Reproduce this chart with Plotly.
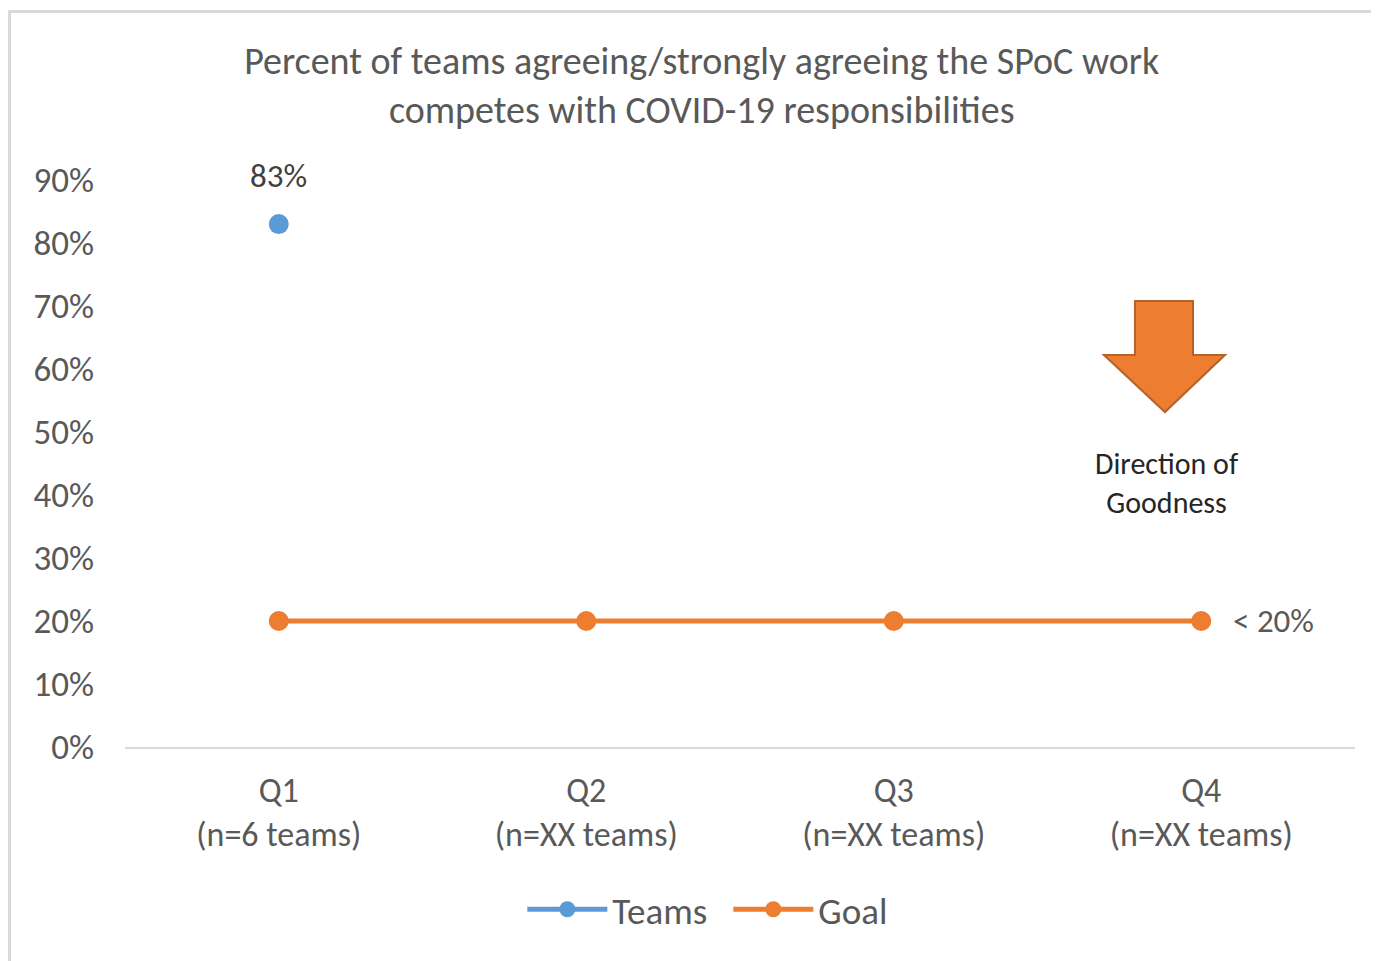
import plotly.graph_objects as go

BLUE = "#5B9BD5"
ORANGE = "#ED7D31"
GREY = "#595959"
FONT = "Calibri, Carlito, Lato, sans-serif"

quarters = ["Q1<br>(n=6 teams)", "Q2<br>(n=XX teams)", "Q3<br>(n=XX teams)", "Q4<br>(n=XX teams)"]
teams = [0.83, None, None, None]
goal = [0.20, 0.20, 0.20, 0.20]
teams_labels = ["83%", "", "", ""]
goal_labels = ["", "", "", "< 20%"]

fig = go.Figure()

fig.add_trace(go.Scatter(
    x=quarters, y=teams, name="Teams", mode="lines+markers",
    line=dict(color=BLUE, width=5), marker=dict(size=20, color=BLUE),
))
fig.add_trace(go.Scatter(
    x=quarters, y=goal, name="Goal", mode="lines+markers",
    line=dict(color=ORANGE, width=5), marker=dict(size=20, color=ORANGE),
))

# data labels
for q, v, lab in zip(quarters, teams, teams_labels):
    if lab:
        fig.add_annotation(x=q, y=v, text=lab, showarrow=False, yshift=48,
                           font=dict(size=33, color="#404040", family=FONT))
for q, v, lab in zip(quarters, goal, goal_labels):
    if lab:
        fig.add_annotation(x=q, y=v, text=lab, showarrow=False, xanchor="left",
                           xshift=30, font=dict(size=33, color=GREY, family=FONT))

# block arrow "direction of goodness" (paper coords)
fig.add_shape(type="path", xref="paper", yref="paper",
              path="M 0.8211 0.7866 L 0.8683 0.7866 L 0.8683 0.6914 L 0.8943 0.6914 "
                   "L 0.8455 0.5908 L 0.7959 0.6914 L 0.8211 0.6914 Z",
              fillcolor=ORANGE, line=dict(color="#B4612A", width=2))
fig.add_annotation(xref="paper", yref="paper", x=0.847, y=0.466, showarrow=False,
                   xanchor="center", yanchor="middle",
                   text="Direction of<br>Goodness", align="center",
                   font=dict(size=30, color="#262626", family=FONT))

# chart frame
fig.add_shape(type="rect", xref="paper", yref="paper",
              x0=-0.0939, y0=-0.5, x1=1.1, y1=1.2972,
              line=dict(color="#D9D9D9", width=3), fillcolor="rgba(0,0,0,0)", layer="below")

fig.update_layout(
    width=1371, height=953,
    margin=dict(l=117, r=24, t=172, b=214),
    paper_bgcolor="white", plot_bgcolor="white",
    font=dict(family=FONT, color=GREY, size=34),
    title=dict(text="Percent of teams agreeing/strongly agreeing the SPoC work<br>competes with COVID-19 responsibilities",
               x=0.506, xref="container", xanchor="center",
               y=1 - 66 / 953, yref="container", yanchor="top",
               font=dict(size=38, color=GREY, family=FONT)),
    showlegend=True,
    legend=dict(orientation="h", x=0.4905, xref="paper", xanchor="center",
                y=-0.287, yanchor="middle", itemwidth=80, entrywidth=111,
                font=dict(size=37, color=GREY, family=FONT)),
    xaxis=dict(showgrid=False, showline=True, linecolor="#D9D9D9", linewidth=2,
               ticks="", range=[-0.5, 3.5], ticklabelstandoff=12,
               tickfont=dict(size=34, color=GREY, family=FONT)),
    yaxis=dict(range=[0, 0.9], dtick=0.1, tickformat=".0%", showgrid=False,
               zeroline=False, showline=False, ticks="", ticklabelstandoff=30,
               tickfont=dict(size=35, color=GREY, family=FONT)),
)

fig.write_html("out.html")
